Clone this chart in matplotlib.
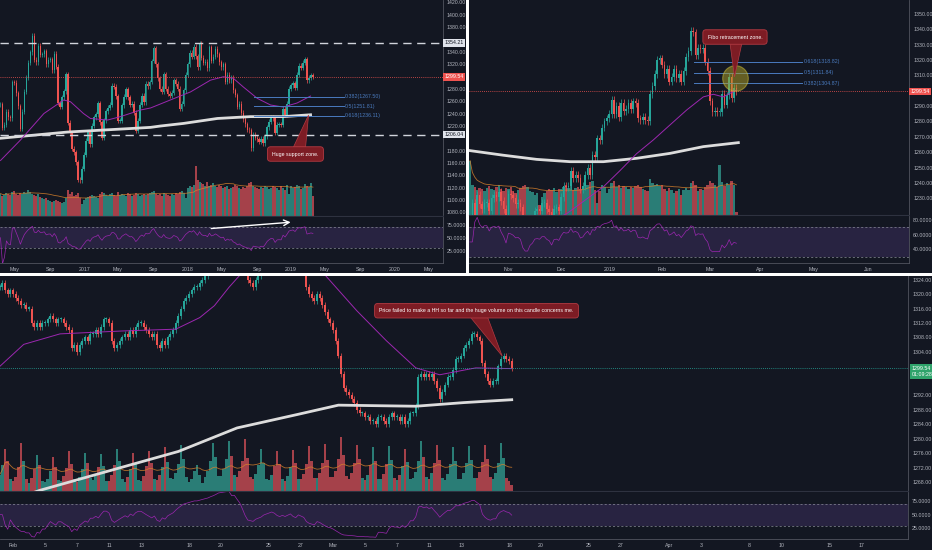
import numpy as np
import pandas as pd
import matplotlib
matplotlib.use('Agg')
import matplotlib.pyplot as plt
from matplotlib.transforms import blended_transform_factory
from matplotlib.ticker import FormatStrFormatter

plt.rcParams['font.family'] = ['Liberation Sans', 'DejaVu Sans']

# ========== weekly XAUUSD (top-left), bar 0 = week of 2016-03-14 ==========
wk_close = [
    1255, 1217, 1222, 1243, 1234, 1232, 1291, 1290, 1273, 1252, 1215, 1243, 1275, 1298,
    1322, 1339, 1366, 1327, 1323, 1350, 1335, 1336, 1341, 1320, 1327, 1328, 1310, 1337,
    1316, 1257, 1251, 1266, 1276, 1304, 1225, 1208, 1183, 1177, 1161, 1133, 1132, 1151,
    1173, 1196, 1210, 1190, 1220, 1234, 1239, 1257, 1226, 1201, 1229, 1244, 1249, 1254,
    1285, 1283, 1268, 1228, 1228, 1253, 1267, 1279, 1266, 1254, 1256, 1241, 1212, 1228,
    1254, 1269, 1258, 1288, 1284, 1291, 1325, 1346, 1320, 1297, 1280, 1275, 1304, 1280,
    1272, 1269, 1274, 1294, 1288, 1280, 1248, 1256, 1278, 1303,
    1320, 1338, 1332, 1348, 1333, 1315, 1353, 1330, 1322, 1324, 1313, 1347, 1325, 1332,
    1345, 1336, 1323, 1315, 1320, 1291, 1303, 1294, 1298, 1278, 1270, 1251, 1256, 1241,
    1231, 1223, 1214, 1213, 1184, 1206, 1201, 1198, 1194, 1199, 1192, 1203, 1218, 1227,
    1234, 1232, 1209, 1222, 1223, 1222, 1248, 1238, 1256, 1280,
    1286, 1289, 1282, 1303, 1317, 1314, 1322, 1328, 1294, 1298, 1302, 1299.54,
]
wk_vol = [
    22, 20, 21, 23, 22, 21, 24, 25, 22, 21, 23, 22, 24, 23, 26, 24, 22, 21, 20, 22, 19,
    18, 17, 18, 16, 15, 14, 15, 16, 15, 14, 13, 14, 18, 26, 22, 24, 20, 21, 23, 18, 12,
    16, 18, 19, 20, 21, 20, 19, 18, 22, 24, 23, 21, 20, 22, 23, 21, 20, 24, 21, 22, 21,
    20, 23, 22, 20, 21, 23, 22, 20, 21, 22, 21, 22, 23, 24, 25, 22, 21, 22, 20, 23, 22,
    21, 20, 22, 21, 23, 22, 24, 25, 23, 18,
    28, 30, 29, 31, 50, 36, 34, 33, 32, 30, 34, 30, 31, 33, 30, 29, 31, 30, 28, 29, 30,
    27, 28, 29, 31, 30, 28, 27, 29, 28, 30, 33, 34, 30, 29, 28, 27, 29, 28, 30, 29, 27,
    28, 30, 29, 28, 26, 30, 28, 26, 31, 22,
    30, 28, 29, 31, 30, 27, 28, 32, 30, 29, 33, 20,
]
wk_ma50_x = [0, 10, 21.8, 31.8, 35.2, 41.7, 45.2, 53.8, 60.3, 70.4, 75.4, 85.4, 95.5,
             105.5, 112, 117, 122, 129, 135.7, 142, 149, 155.8]
wk_ma50_y = [1164, 1197, 1240, 1262, 1259, 1240, 1232, 1229.5, 1235, 1245.7, 1249, 1262,
             1275, 1294, 1299.5, 1297, 1283, 1264.6, 1253.8, 1250.5, 1257, 1268.3]
wk_ma200_x = [0, 33.5, 66.8, 75.4, 80.4, 92, 109, 125.6, 142, 155.8]
wk_ma200_y = [1200, 1210, 1216, 1217.6, 1219.8, 1224, 1232, 1235, 1235, 1238]
wk_ticks = [7, 25, 42, 59, 77, 94, 111, 129, 146, 163, 181, 198, 215]
wk_tick_labels = ['May', 'Sep', '2017', 'May', 'Sep', '2018', 'May', 'Sep', '2019',
                  'May', 'Sep', '2020', 'May']
wk_levels = [1354.21, 1206.04]
wk_fib_names = ['0.382', '0.5', '0.618']
wk_fib_values = [1267.50, 1251.81, 1236.11]

# ========== daily XAUUSD (top-right), bar 0 = 2018-10-10 ==========
d_close = [
    1194, 1227, 1218, 1232, 1226, 1223, 1227, 1227, 1222, 1230, 1232, 1231, 1234, 1228,
    1223, 1214,
    1233, 1232, 1230, 1226, 1227, 1224, 1209, 1201, 1201, 1210, 1214, 1222, 1223, 1222,
    1227, 1227, 1223, 1221, 1214, 1223, 1224, 1222,
    1231, 1238, 1237, 1238, 1248, 1243, 1245, 1243, 1236, 1238, 1245, 1250, 1245, 1258,
    1257, 1269, 1268, 1276, 1280, 1282,
    1285, 1294, 1285, 1290, 1283, 1292, 1287, 1288, 1292, 1288, 1293, 1292, 1282, 1281,
    1283, 1281, 1280, 1298, 1303, 1311, 1320, 1321,
    1317, 1311, 1314, 1306, 1309, 1314, 1308, 1311, 1306, 1313, 1322, 1326, 1339, 1338,
    1323, 1328, 1327, 1328, 1319, 1313,
    1293, 1286, 1287, 1286, 1286, 1298, 1291, 1297, 1309, 1295, 1302, 1299.54,
]
d_vol = [
    54, 30, 28, 25, 27, 26, 24, 27, 29, 26, 25, 28, 30, 26, 24, 27,
    26, 28, 24, 22, 25, 27, 29, 30, 28, 24, 23, 20, 22, 10, 18, 22, 24, 26, 25, 27, 23, 26,
    26, 28, 30, 27, 29, 25, 27, 28, 26, 29, 31, 30, 33, 34, 25, 12, 24, 30, 28, 22,
    26, 32, 34, 28, 30, 27, 29, 28, 26, 28, 27, 29, 30, 28, 26, 25, 24, 36, 32, 30, 31, 29,
    30, 26, 24, 27, 25, 22, 24, 26, 20, 25, 27, 25, 32, 34, 30, 24, 26, 25, 28, 30,
    34, 32, 30, 28, 50, 33, 29, 32, 30, 34, 30, 3,
]
d_ma50_x = [0, 30, 40.3, 55.6, 62.5, 69.4, 76.4, 83.3, 90.3, 97.2, 101.4, 105.5, 111]
d_ma50_y = [1205, 1212, 1220, 1237.5, 1248, 1259, 1268, 1277.7, 1287.5, 1296, 1297.7,
            1296, 1300.5]
d_ma200_x = [0, 13.9, 27.8, 41.7, 55.6, 69.4, 83.3, 97.2, 111.8]
d_ma200_y = [1261, 1258, 1255.3, 1253.8, 1253.8, 1256, 1259.2, 1263.6, 1266.2]
d_ticks = [16, 38, 58, 80, 100, 121, 143, 166]
d_tick_labels = ['Nov', 'Dec', '2019', 'Feb', 'Mar', 'Apr', 'May', 'Jun']
d_fib_names = ['0.618', '0.5', '0.382']
d_fib_values = [1318.82, 1311.84, 1304.87]

# ========== 4H XAUUSD (bottom), bar 5 = first bar of 2019-02-01 ==========
h_close = [
    1322, 1323, 1321, 1320, 1321,
    1320, 1319, 1318, 1317, 1317, 1316,
    1316, 1312, 1311, 1312, 1311, 1312,
    1312, 1313, 1314, 1313, 1312, 1313,
    1313, 1312, 1311, 1310, 1305, 1306,
    1304, 1306, 1307, 1308, 1307, 1309,
    1309, 1310, 1309, 1311, 1313, 1313,
    1312, 1307, 1305, 1306, 1307, 1308,
    1309, 1308, 1310, 1309, 1311, 1312,
    1312, 1311, 1310, 1309, 1308, 1309,
    1306, 1305, 1307, 1306, 1308, 1309,
    1310, 1312, 1314, 1316, 1318, 1319,
    1320, 1321, 1322, 1322, 1323, 1324,
    1325, 1326, 1328, 1330, 1333, 1338,
    1340, 1342, 1344, 1345, 1343, 1344,
    1342, 1340, 1336, 1330, 1324, 1323,
    1322, 1324, 1325, 1326, 1328, 1329,
    1330, 1331, 1330, 1328, 1327, 1328,
    1327, 1328, 1329, 1327, 1326, 1328,
    1327, 1326, 1322, 1320, 1319, 1318,
    1320, 1319, 1317, 1315, 1313, 1312,
    1310, 1307, 1303, 1298, 1294, 1293,
    1292, 1291, 1290, 1288, 1287, 1287,
    1286, 1286, 1285, 1285, 1284, 1286,
    1286, 1285, 1284, 1286, 1287, 1286,
    1286, 1285, 1286, 1284, 1285, 1287,
    1287, 1289, 1297, 1298, 1297, 1298,
    1297, 1298, 1296, 1294, 1291, 1293,
    1295, 1297, 1297, 1299, 1302, 1302,
    1303, 1305, 1306, 1307, 1309, 1309,
    1308, 1307, 1301, 1298, 1296, 1295,
    1296, 1296, 1300, 1302, 1303, 1302,
    1301.5, 1299.54,
]
h_vol = [
    16, 26, 42, 30, 12,
    10, 14, 24, 48, 30, 12,
    8, 13, 22, 36, 26, 10,
    9, 12, 20, 34, 24, 11,
    10, 15, 23, 40, 27, 12,
    9, 14, 22, 38, 28, 13,
    11, 15, 24, 37, 25, 10,
    10, 16, 26, 42, 30, 12,
    9, 14, 22, 38, 27, 11,
    10, 15, 25, 40, 28, 12,
    11, 16, 24, 44, 29, 13,
    12, 18, 27, 46, 32, 14,
    9, 12, 20, 26, 16, 8,
    14, 20, 30, 48, 34, 15,
    15, 22, 32, 50, 35, 16,
    14, 20, 30, 52, 33, 14,
    12, 17, 26, 42, 28, 12,
    11, 16, 25, 40, 27, 12,
    10, 15, 24, 41, 28, 12,
    12, 17, 27, 45, 30, 13,
    13, 18, 28, 47, 31, 14,
    14, 20, 32, 54, 36, 15,
    12, 18, 28, 46, 32, 13,
    11, 16, 26, 44, 30, 12,
    12, 17, 27, 45, 31, 13,
    11, 16, 25, 42, 29, 12,
    13, 19, 30, 50, 34, 14,
    12, 18, 28, 46, 31, 13,
    11, 17, 27, 44, 30, 12,
    12, 18, 28, 45, 31, 13,
    13, 19, 29, 46, 32, 14,
    12, 18, 28, 48, 33, 13,
    10, 6,
]
h_ma50_x = [0, 9, 22.6, 45.8, 66, 75, 80.5, 86, 90.5, 105, 121.6, 133.9, 145, 156, 165,
            178.5, 192]
h_ma50_y = [1300, 1306.1, 1309, 1309.8, 1310.3, 1313.5, 1316.8, 1321.9, 1325.6, 1332,
            1325.6, 1315.4, 1307.1, 1299.6, 1297.7, 1299.6, 1299.4]
h_ma200_x = [0, 15.3, 44.7, 67, 89, 111.5, 127, 156, 174, 192]
h_ma200_y = [1262, 1265.8, 1271.9, 1276.5, 1283, 1286.7, 1289.3, 1289, 1290, 1290.8]
h_day_index = [0, 2, 4, 6, 8, 11, 13, 16, 18, 20, 22, 24, 26, 28, 31, 33, 36, 38, 41, 43,
               46, 48, 51, 53]
h_tick_labels = ['Feb', '5', '7', '11', '13', '18', '20', '25', '27', 'Mar', '5', '7',
                 '11', '13', '18', '20', '25', '27', 'Apr', '3', '8', '10', '15', '17']

last_price = 1299.54
countdown = '01:09:28'
countdown_y = 1297.7

# ========== 樣式 ==========
BG = '#131722'
GREEN = '#26a69a'
RED = '#ef5350'
VOL_UP = '#2a7d76'
VOL_DN = '#a5414a'
TXT = '#b2b5be'
AXLINE = '#50535e'
SEP = '#2e3240'
PURPLE = '#9c27b0'
FIB = '#4a7bbf'
CALL_FC = '#7d1c24'
CALL_EC = '#b23a42'
FS = 3.8

W, H = 932, 550


def rect(x0, y0, x1, y1):
    return [x0 / W, 1 - y1 / H, (x1 - x0) / W, (y1 - y0) / H]


def blank(ax):
    ax.set_xticks([])
    ax.set_yticks([])
    for s in ax.spines.values():
        s.set_visible(False)


def rsi(values, n=14):
    s = pd.Series(values, dtype=float)
    d = s.diff().fillna(0)
    up = d.clip(lower=0).ewm(alpha=1 / n, adjust=True).mean()
    dn = (-d.clip(upper=0)).ewm(alpha=1 / n, adjust=True).mean()
    r = 100 - 100 / (1 + up / dn.replace(0, np.nan))
    return r.fillna(50).values


def make_panel(fig, x0, x1, y0, y1, axis_x, price_bot, rsi_top, rsi_bot):
    bg = fig.add_axes(rect(x0, y0, x1, y1))
    bg.set_facecolor(BG)
    blank(bg)
    ax_v = fig.add_axes(rect(x0, y0, axis_x, price_bot))
    ax_v.set_facecolor(BG)
    blank(ax_v)
    ax = fig.add_axes(rect(x0, y0, axis_x, price_bot))
    ax.patch.set_visible(False)
    ax_r = fig.add_axes(rect(x0, rsi_top, axis_x, rsi_bot))
    ax_r.set_facecolor(BG)
    return ax, ax_v, ax_r, price_bot - y0


def draw_candles(ax, ax_v, closes, vols, wick, min_body, pane_px):
    c = np.array(closes, dtype=float)
    v = np.array(vols, dtype=float)
    o = np.r_[c[0], c[:-1]]
    x = np.arange(len(c))
    up = c >= o
    hi = np.maximum(o, c) + wick
    lo = np.minimum(o, c) - wick
    body = np.maximum(np.abs(c - o), min_body)
    bottom = np.minimum(o, c)
    for m, col, vcol in ((up, GREEN, VOL_UP), (~up, RED, VOL_DN)):
        ax.vlines(x[m], lo[m], hi[m], color=col, lw=0.5, zorder=3)
        ax.bar(x[m], body[m], bottom=bottom[m], width=0.72, color=col, lw=0, zorder=4)
        ax_v.bar(x[m], v[m], width=1.0, color=vcol, lw=0)
    vma = pd.Series(v).rolling(20, min_periods=1).mean()
    ax_v.plot(x, vma, color='#d9822b', lw=0.6, alpha=0.8)
    ax_v.set_ylim(0, pane_px)
    return x


def style_price(ax, ax_v, xlim, ylim, yticks, tagged, gap):
    for a in (ax, ax_v):
        a.set_xlim(*xlim)
    ax.set_ylim(*ylim)
    ax.set_xticks([])
    ax.yaxis.tick_right()
    ax.set_yticks([t for t in yticks if min(abs(t - v) for v in tagged) > gap])
    ax.yaxis.set_major_formatter(FormatStrFormatter('%.2f'))
    ax.tick_params(axis='y', length=0, pad=3, labelsize=FS, labelcolor=TXT)
    for k in ('top', 'left'):
        ax.spines[k].set_visible(False)
    ax.spines['right'].set_color(AXLINE)
    ax.spines['right'].set_linewidth(0.6)
    ax.spines['bottom'].set_color(SEP)
    ax.spines['bottom'].set_linewidth(0.8)


def style_rsi(ax_r, x, closes, xlim, ylim, yticks, xticks, xlabels):
    ax_r.axhspan(30, 70, color='#7e57c2', alpha=0.2, lw=0)
    for lvl in (30, 70):
        ax_r.axhline(lvl, color='#8a8d98', lw=0.5, ls=(0, (3, 3)))
    ax_r.plot(x, rsi(closes), color=PURPLE, lw=0.5)
    ax_r.set_xlim(*xlim)
    ax_r.set_ylim(*ylim)
    ax_r.yaxis.tick_right()
    ax_r.set_yticks(yticks)
    ax_r.yaxis.set_major_formatter(FormatStrFormatter('%.4f'))
    ax_r.set_xticks(xticks)
    ax_r.set_xticklabels(xlabels)
    ax_r.tick_params(axis='both', length=0, labelsize=FS, labelcolor=TXT)
    ax_r.tick_params(axis='y', pad=3)
    ax_r.tick_params(axis='x', pad=3)
    for k in ('top', 'left'):
        ax_r.spines[k].set_visible(False)
    for k in ('right', 'bottom'):
        ax_r.spines[k].set_color(AXLINE)
        ax_r.spines[k].set_linewidth(0.6)


def tag(ax, y, text, fc, tc):
    tr = blended_transform_factory(ax.transAxes, ax.transData)
    ax.text(1.004, y, text, transform=tr, ha='left', va='center', fontsize=FS,
            color=tc, clip_on=False, zorder=10,
            bbox=dict(boxstyle='square,pad=0.25', fc=fc, ec='none'))


def callout(ax, text, box_xy, base_x, base_y, tip_xy):
    ax.fill([base_x[0], base_x[1], tip_xy[0]], [base_y, base_y, tip_xy[1]],
            fc=CALL_FC, ec=CALL_EC, lw=0.5, zorder=8)
    ax.text(box_xy[0], box_xy[1], text, ha='center', va='center', color='white',
            fontsize=FS, zorder=9,
            bbox=dict(boxstyle='round,pad=0.9,rounding_size=0.6', fc=CALL_FC,
                      ec=CALL_EC, lw=0.6))


def fib(ax, names, values, x_from, x_to):
    for n, v in zip(names, values):
        ax.plot([x_from, x_to], [v, v], color=FIB, lw=0.7, zorder=5)
        ax.text(x_to + 0.8, v, f'{n}({v:.2f})', color=FIB, fontsize=FS,
                ha='left', va='center', zorder=5)


fig = plt.figure(figsize=(W / 100, H / 100), dpi=100, facecolor='white')

# ========== 1. 左上：週線 ==========
ax, ax_v, ax_r, pane = make_panel(fig, 0, 466, 0, 273, 442.5, 215.5, 216.5, 262.5)
x = draw_candles(ax, ax_v, wk_close, wk_vol, 4, 1.0, pane)
wk_xlim = (-0.25, 222.1)
style_price(ax, ax_v, wk_xlim, (1075, 1423.7), np.arange(1080, 1421, 20),
            wk_levels + [last_price], 7)
ax.plot(wk_ma200_x, wk_ma200_y, color='#dcdcdc', lw=2.0, zorder=5)
ax.plot(wk_ma50_x, wk_ma50_y, color=PURPLE, lw=0.7, zorder=5)
for lvl in wk_levels:
    ax.axhline(lvl, color='#d1d4dc', lw=1.0, ls=(0, (6, 4)), zorder=6)
ax.axhline(last_price, color=RED, lw=0.6, ls=(0, (1, 1.5)), zorder=6)
fib(ax, wk_fib_names, wk_fib_values, 127.6, 172.4)
callout(ax, 'Huge support zone.', (148.2, 1174.5), (147.2, 153.3), 1185.8, (154.8, 1237.6))
tag(ax, wk_levels[0], f'{wk_levels[0]:.2f}', '#e0e3eb', BG)
tag(ax, last_price, f'{last_price:.2f}', RED, 'white')
tag(ax, wk_levels[1], f'{wk_levels[1]:.2f}', '#e0e3eb', BG)
style_rsi(ax_r, x, wk_close, wk_xlim, (2.3, 90.8), [25, 50, 75], wk_ticks, wk_tick_labels)
ax_r.annotate('', xy=(147.2, 80.2), xytext=(104.5, 67.3),
              arrowprops=dict(arrowstyle='->', color='white', lw=1.0))

# ========== 2. 右上：日線 ==========
ax, ax_v, ax_r, pane = make_panel(fig, 469, 932, 0, 273, 909, 214.5, 215.5, 262.5)
x = draw_candles(ax, ax_v, d_close, d_vol, 2.5, 0.5, pane)
d_xlim = (-0.42, 182.9)
style_price(ax, ax_v, d_xlim, (1219.4, 1359.1), np.arange(1230, 1351, 10),
            [last_price], 3)
ax.plot(d_ma200_x, d_ma200_y, color='#dcdcdc', lw=2.0, zorder=5)
ax.plot(d_ma50_x, d_ma50_y, color=PURPLE, lw=0.7, zorder=5)
ax.axhline(last_price, color=RED, lw=0.6, ls=(0, (1, 1.5)), zorder=6)
fib(ax, d_fib_names, d_fib_values, 93.3, 138.3)
ax.scatter([110.2], [1308.5], s=340, color='#b5a626', alpha=0.5,
           edgecolors='#d8c83a', linewidths=0.8, zorder=7)
callout(ax, 'Fibo retracement zone.', (110.4, 1335), (108.3, 113.3), 1331.1, (110.2, 1309))
tag(ax, last_price, f'{last_price:.2f}', RED, 'white')
style_rsi(ax_r, x, d_close, d_xlim, (22, 86.1), [40, 60, 80], d_ticks, d_tick_labels)

# ========== 3. 下方：4H ==========
ax, ax_v, ax_r, pane = make_panel(fig, 0, 932, 276, 550, 908, 490.7, 491.5, 539)
x = draw_candles(ax, ax_v, h_close, h_vol, 0.8, 0.3, pane)
h_xlim = (0.1, 340.6)
style_price(ax, ax_v, h_xlim, (1265.65, 1325.0), np.arange(1268, 1325, 4),
            [last_price, countdown_y], 2)
ax.plot(h_ma200_x, h_ma200_y, color='#dcdcdc', lw=2.0, zorder=5)
ax.plot(h_ma50_x, h_ma50_y, color=PURPLE, lw=0.7, zorder=5)
ax.axhline(last_price, color=GREEN, lw=0.6, ls=(0, (1, 1.5)), zorder=6)
callout(ax, 'Price failed to make a HH so far and the huge volume on this candle concerns me.',
        (178.8, 1315.4), (176.4, 182.9), 1313.7, (188.4, 1302.9))
tag(ax, last_price, f'{last_price:.2f}', '#2fa36b', 'white')
tag(ax, countdown_y, countdown, '#2fa36b', 'white')
h_ticks = [5 + 6 * d for d in h_day_index]
style_rsi(ax_r, x, h_close, h_xlim, (5.4, 92.4), [25, 50, 75], h_ticks, h_tick_labels)

fig.savefig('out.png', dpi=100, facecolor='white')
